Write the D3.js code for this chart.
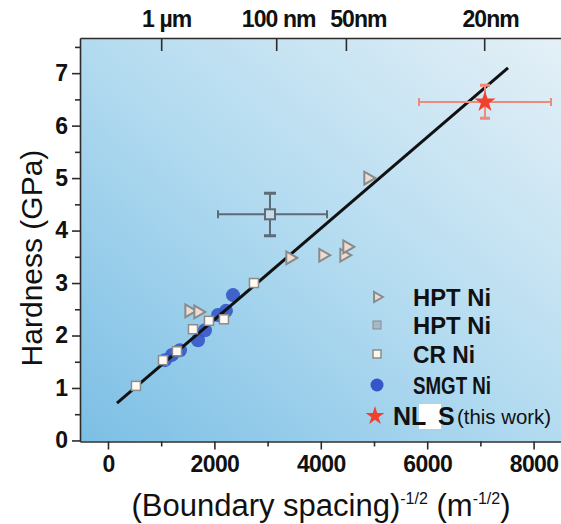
<!DOCTYPE html>
<html>
<head>
<meta charset="utf-8">
<script src="https://cdn.jsdelivr.net/npm/d3@7"></script>
<style>
  body { margin: 0; background: #fff; }
  text { font-family: "Liberation Sans", Arial, sans-serif; fill: #111; }
</style>
</head>
<body>
<svg id="chart" width="561" height="524"></svg>
<script>
// values: [x (m^-1/2), hardness (GPa)]
const hptTriangles = [[1523, 2.47], [1692, 2.45], [3421, 3.48], [4041, 3.53], [4436, 3.53], [4492, 3.69], [4887, 5.0]];
const crNi = [[526, 1.04], [1034, 1.53], [1297, 1.70], [1598, 2.12], [1898, 2.28], [2180, 2.31], [2744, 3.0]];
const smgtNi = [[1071, 1.53], [1203, 1.63], [1353, 1.72], [1692, 1.91], [1823, 2.10], [2068, 2.39], [2218, 2.47], [2350, 2.77]];
const hptSquare = [{ x: 3045, h: 4.31, xLo: 2068, xHi: 4117, hLo: 3.90, hHi: 4.71 }];
const nls = [{ x: 7086, h: 6.45, xLo: 5846, xHi: 8327, hLo: 6.14, hHi: 6.77 }];
const fitLine = [[169, 0.71], [7519, 7.10]];

const xTicks = [0, 2000, 4000, 6000, 8000];
const xMinor = [1000, 3000, 5000, 7000];
const yTicks = [0, 1, 2, 3, 4, 5, 6, 7];
const yMinor = [0.5, 1.5, 2.5, 3.5, 4.5, 5.5, 6.5, 7.5];
const topTicks = [1000, 3162, 4472, 7071];
const topLabels = ["1 µm", "100 nm", "50nm", "20nm"];
const legendLabels = ["HPT Ni", "HPT Ni", "CR Ni", "SMGT Ni", "NLS"];

const svg = d3.select("#chart");

const mLeft = 80, mRight = 561, mTop = 38, mBottom = 441.5;

const x = d3.scaleLinear().domain([-526, 8515]).range([mLeft, mRight]);
const y = d3.scaleLinear().domain([-0.02, 7.67]).range([mBottom, mTop]);

// background gradient
const defs = svg.append("defs");
const grad = defs.append("linearGradient")
  .attr("id", "bg")
  .attr("x1", 0).attr("y1", 1)
  .attr("x2", 1).attr("y2", 0);
grad.append("stop").attr("offset", "0%").attr("stop-color", "#7cbfe5");
grad.append("stop").attr("offset", "50%").attr("stop-color", "#b3dbf0");
grad.append("stop").attr("offset", "100%").attr("stop-color", "#e4f0f7");

defs.append("clipPath").attr("id", "clip")
  .append("rect")
  .attr("x", mLeft).attr("y", mTop)
  .attr("width", mRight - mLeft).attr("height", mBottom - mTop);

svg.append("rect")
  .attr("x", mLeft).attr("y", mTop)
  .attr("width", mRight - mLeft).attr("height", mBottom - mTop)
  .attr("fill", "url(#bg)");

// axes
const axisColor = "#2e2a2a";

function styleAxis(g, size, weight) {
  g.selectAll("path, line").attr("stroke", axisColor).attr("stroke-width", 1.6);
  g.selectAll("text")
    .attr("font-family", "'Liberation Sans', Arial, sans-serif")
    .attr("font-size", size)
    .attr("font-weight", weight)
    .attr("fill", "#111");
}

const gx = svg.append("g")
  .attr("transform", `translate(0,${mBottom})`)
  .call(d3.axisBottom(x).tickValues(xTicks).tickFormat(d3.format("d"))
    .tickSize(8).tickSizeOuter(0).tickPadding(6));
styleAxis(gx, 23, "bold");
gx.selectAll("text").attr("letter-spacing", -0.6);

svg.append("g")
  .attr("transform", `translate(0,${mBottom})`)
  .call(d3.axisBottom(x).tickValues(xMinor).tickSize(5).tickFormat(""))
  .call(g => g.select(".domain").remove())
  .call(g => styleAxis(g, 10, "normal"));

const gy = svg.append("g")
  .attr("transform", `translate(${mLeft},0)`)
  .call(d3.axisLeft(y).tickValues(yTicks).tickSize(8).tickSizeOuter(0).tickPadding(4));
styleAxis(gy, 23, "bold");

svg.append("g")
  .attr("transform", `translate(${mLeft},0)`)
  .call(d3.axisLeft(y).tickValues(yMinor).tickSize(5).tickFormat(""))
  .call(g => g.select(".domain").remove())
  .call(g => styleAxis(g, 10, "normal"));

const gt = svg.append("g")
  .attr("transform", `translate(0,${mTop})`)
  .call(d3.axisTop(x).tickValues(topTicks).tickSizeInner(-13).tickSizeOuter(0).tickPadding(11)
    .tickFormat((d, i) => topLabels[i]));
styleAxis(gt, 23, "bold");
gt.selectAll("text").attr("letter-spacing", -0.9)
  .attr("dx", (d, i) => [5, 2, 12, 6][i]);

// axis titles
const xt = svg.append("text")
  .attr("x", 321).attr("y", 516)
  .attr("text-anchor", "middle")
  .attr("font-size", 31);
xt.append("tspan").text("(Boundary spacing)");
xt.append("tspan").attr("dy", -12).attr("font-size", 16).text("-1/2");
xt.append("tspan").attr("dy", 12).text(" (m");
xt.append("tspan").attr("dy", -12).attr("font-size", 16).text("-1/2");
xt.append("tspan").attr("dy", 12).text(")");

svg.append("text")
  .attr("transform", "translate(42,258) rotate(-90)")
  .attr("text-anchor", "middle")
  .attr("font-size", 30)
  .text("Hardness (GPa)");

// plot layer
const plot = svg.append("g").attr("clip-path", "url(#clip)");

const blue = "#3556c8";
plot.selectAll("circle.smgt")
  .data(smgtNi)
  .join("circle")
  .attr("class", "smgt")
  .attr("cx", d => x(d[0]))
  .attr("cy", d => y(d[1]))
  .attr("r", 7)
  .attr("fill", blue)
  .attr("opacity", 0.9);

plot.append("path")
  .datum(fitLine)
  .attr("d", d3.line().x(d => x(d[0])).y(d => y(d[1])))
  .attr("stroke", "#111")
  .attr("stroke-width", 3)
  .attr("fill", "none");

const tri = d3.symbol().type(d3.symbolTriangle).size(70);
plot.selectAll("path.hpt")
  .data(hptTriangles)
  .join("path")
  .attr("class", "hpt")
  .attr("d", tri)
  .attr("transform", d => `translate(${x(d[0])},${y(d[1])}) rotate(90)`)
  .attr("fill", "#ecdcd4")
  .attr("stroke", "#8a8a8a")
  .attr("stroke-width", 2);

plot.selectAll("rect.cr")
  .data(crNi)
  .join("rect")
  .attr("class", "cr")
  .attr("x", d => x(d[0]) - 4.5)
  .attr("y", d => y(d[1]) - 4.5)
  .attr("width", 9).attr("height", 9)
  .attr("fill", "#fffaf2")
  .attr("stroke", "#8c8c8c")
  .attr("stroke-width", 1.5);

// error bars
function errorBars(data, color, cap) {
  const g = plot.append("g").attr("stroke", color).attr("stroke-width", 2);
  data.forEach(d => {
    g.append("line").attr("x1", x(d.xLo)).attr("x2", x(d.xHi)).attr("y1", y(d.h)).attr("y2", y(d.h));
    g.append("line").attr("x1", x(d.x)).attr("x2", x(d.x)).attr("y1", y(d.hLo)).attr("y2", y(d.hHi));
    [d.xLo, d.xHi].forEach(v => g.append("line")
      .attr("x1", x(v)).attr("x2", x(v)).attr("y1", y(d.h) - 4).attr("y2", y(d.h) + 4));
    [d.hLo, d.hHi].forEach(v => g.append("line").attr("stroke-width", 3)
      .attr("x1", x(d.x) - cap).attr("x2", x(d.x) + cap).attr("y1", y(v)).attr("y2", y(v)));
  });
}

errorBars(hptSquare, "#5d6b76", 6);
plot.selectAll("rect.hsq")
  .data(hptSquare)
  .join("rect")
  .attr("class", "hsq")
  .attr("x", d => x(d.x) - 5)
  .attr("y", d => y(d.h) - 5)
  .attr("width", 10).attr("height", 10)
  .attr("fill", "#c9dde8")
  .attr("stroke", "#5d6b76")
  .attr("stroke-width", 2);

errorBars(nls, "#f08a78", 5);
plot.selectAll("path.nls")
  .data(nls)
  .join("path")
  .attr("class", "nls")
  .attr("d", d3.symbol().type(d3.symbolStar).size(140))
  .attr("transform", d => `translate(${x(d.x)},${y(d.h)})`)
  .attr("fill", "#f0402f");

// legend
const lx = 377, tx = 413;
const rows = [297, 325, 354, 385, 416];
const widths = [78, 78, 62, 78];
const lg = svg.append("g");

lg.append("path")
  .attr("d", d3.symbol().type(d3.symbolTriangle).size(45))
  .attr("transform", `translate(${lx},${rows[0]}) rotate(90)`)
  .attr("fill", "#e6dcd6").attr("stroke", "#8a8a8a").attr("stroke-width", 2);
lg.append("rect")
  .attr("x", lx - 4).attr("y", rows[1] - 4).attr("width", 8).attr("height", 8)
  .attr("fill", "#a9b8c2").attr("stroke", "#7f8e98").attr("stroke-width", 1);
lg.append("rect")
  .attr("x", lx - 4).attr("y", rows[2] - 4).attr("width", 8).attr("height", 8)
  .attr("fill", "#fff6ea").attr("stroke", "#8c8c8c").attr("stroke-width", 1.5);
lg.append("circle")
  .attr("cx", lx).attr("cy", rows[3]).attr("r", 6.5).attr("fill", blue);
lg.append("path")
  .attr("d", d3.symbol().type(d3.symbolStar).size(110))
  .attr("transform", `translate(${lx - 2},${rows[4]})`)
  .attr("fill", "#f0402f");

lg.selectAll("text.lab")
  .data(legendLabels.slice(0, 4))
  .join("text")
  .attr("class", "lab")
  .attr("x", tx)
  .attr("y", (d, i) => rows[i] + 9)
  .attr("font-size", 24)
  .attr("font-weight", "bold")
  .attr("textLength", (d, i) => widths[i])
  .attr("lengthAdjust", "spacingAndGlyphs")
  .attr("fill", "#222")
  .text(d => d);

lg.append("rect")
  .attr("x", 419).attr("y", 404).attr("width", 22).attr("height", 25)
  .attr("fill", "#fff");
const nt = lg.append("text")
  .attr("x", 393).attr("y", rows[4] + 9)
  .attr("font-size", 25)
  .attr("font-weight", "bold")
  .attr("fill", "#111");
nt.append("tspan").text(legendLabels[4].slice(0, 2));
nt.append("tspan").attr("x", 438).text(legendLabels[4].slice(2));
lg.append("text")
  .attr("x", 457).attr("y", rows[4] + 8)
  .attr("font-size", 21)
  .attr("textLength", 94)
  .attr("lengthAdjust", "spacingAndGlyphs")
  .attr("fill", "#222")
  .text("(this work)");
</script>
</body>
</html>
